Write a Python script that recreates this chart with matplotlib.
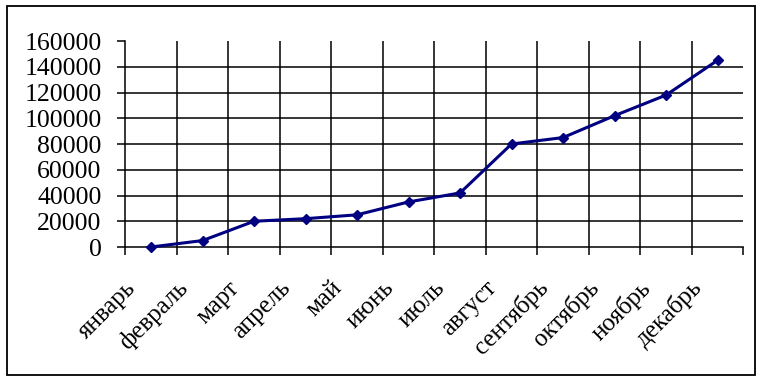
import matplotlib
matplotlib.use("Agg")
import matplotlib.pyplot as plt
import matplotlib.transforms as mtransforms
from matplotlib.patches import Rectangle

months = ["январь", "февраль", "март", "апрель", "май", "июнь",
          "июль", "август", "сентябрь", "октябрь", "ноябрь", "декабрь"]
values = [0, 5000, 20000, 22000, 25000, 35000,
          42000, 80000, 85000, 102000, 118000, 145000]
yticks = [0, 20000, 40000, 60000, 80000, 100000, 120000, 140000, 160000]

plt.rcParams['font.family'] = ['Liberation Serif', 'DejaVu Serif']

W, H = 764, 382
fig = plt.figure(figsize=(W / 100, H / 100), dpi=100)
ax = fig.add_axes([125.3 / W, 1 - 247 / H, (743.3 - 125.3) / W, (247 - 41) / H])

xs = [i + 0.5 for i in range(len(months))]
ax.plot(xs, values, color='#000080', lw=2.2, marker='D', markersize=5,
        markerfacecolor='#000080', markeredgecolor='#000080', zorder=5, clip_on=False)

ax.set_xlim(0, len(months))
ax.set_ylim(0, 160000)

# horizontal gridlines (except top), vertical gridlines at category borders
for v in yticks[1:-1]:
    ax.axhline(v, color='black', lw=1.1, zorder=1)
for i in range(1, len(months)):
    ax.axvline(i, color='black', lw=1.1, zorder=1)

ax.set_yticks(yticks)
ax.set_yticklabels([str(v) for v in yticks], fontsize=18.5)
ax.set_xticks(range(len(months) + 1))
ax.set_xticklabels([])
ax.tick_params(axis='y', direction='out', length=6, width=1.1, pad=11)
ax.tick_params(axis='x', direction='out', length=6, width=1.1)

for s in ['top', 'right']:
    ax.spines[s].set_visible(False)
for s in ['left', 'bottom']:
    ax.spines[s].set_linewidth(1.1)

offset = mtransforms.ScaledTranslation(-14 / 100, -42 / 100, fig.dpi_scale_trans)
for x, m in zip(xs, months):
    ax.text(x, 0, m, transform=ax.transData + offset, rotation=45,
            rotation_mode='anchor', ha='right', va='baseline', fontsize=18)

fig.patches.append(Rectangle((7 / W, 1 - 375 / H), (755 - 7) / W, (375 - 6) / H,
                             transform=fig.transFigure, fill=False,
                             edgecolor='black', lw=1.3))

fig.savefig("out.png", dpi=100)
